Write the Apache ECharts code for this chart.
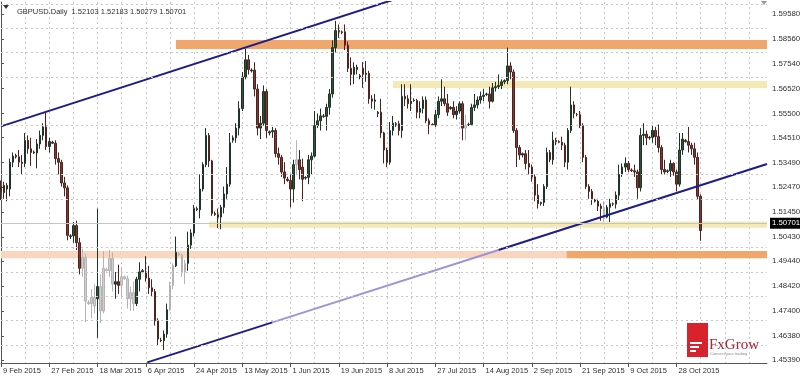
<!DOCTYPE html>
<html>
<head>
<meta charset="utf-8">
<script src="https://cdn.jsdelivr.net/npm/echarts@6/dist/echarts.min.js"></script>
<style>html,body{margin:0;padding:0;background:#fff}#c{width:800px;height:377px}</style>
</head>
<body>
<div id="c"></div>
<script>
// ---------- DATA (GBPUSD Daily, Sunday bars included) ----------
const symbolTitle = 'GBPUSD.Daily';
const startDay = [2015, 1, 9]; // 9 Feb 2015, first visible bar
const open = [
1.5250,1.5225,1.5255,1.5240,1.5350,1.5378, 1.5372,1.5350,1.5345,1.5440,1.5405,1.5392,
1.5388,1.5425,1.5460,1.5495,1.5415,1.5432, 1.5428,1.5365,1.5350,1.5265,1.5245,1.5045,
1.5048,1.5090,1.5020,1.4915,1.4960,1.4775, 1.4770,1.4795,1.4790,1.4840,1.4740,1.4910,
1.4906,1.4955,1.4850,1.4860,1.4845,1.4880, 1.4872,1.4790,1.4815,1.4770,1.4870,1.4905,
1.4900,1.4875,1.4835,1.4820,1.4700,1.4620, 1.4618,1.4645,1.4745,1.4845,1.4925,1.4975,
1.4970,1.4900,1.4935,1.5010,1.5060,1.5160, 1.5155,1.5240,1.5340,1.5460,1.5355,1.5140,
1.5135,1.5125,1.5165,1.5220,1.5260,1.5440, 1.5450,1.5490,1.5570,1.5700,1.5770,1.5725,
1.5728,1.5650,1.5490,1.5510,1.5640,1.5470, 1.5475,1.5480,1.5385,1.5370,1.5310,1.5280,
1.5275,1.5240,1.5340,1.5360,1.5330,1.5285, 1.5288,1.5360,1.5375,1.5500,1.5520,1.5540,
1.5538,1.5575,1.5630,1.5820,1.5890,1.5882, 1.5885,1.5830,1.5735,1.5710,1.5740,1.5700,
1.5735,1.5710,1.5715,1.5610,1.5600,1.5550, 1.5555,1.5470,1.5400,1.5350,1.5480,1.5505,
1.5508,1.5480,1.5620,1.5610,1.5590,1.5605, 1.5603,1.5555,1.5570,1.5605,1.5520,1.5505,
1.5503,1.5545,1.5600,1.5610,1.5590,1.5570, 1.5575,1.5545,1.5560,1.5590,1.5490,1.5505,
1.5505,1.5575,1.5585,1.5605,1.5620,1.5628, 1.5630,1.5600,1.5655,1.5660,1.5665,1.5680,
1.5685,1.5745,1.5720,1.5480,1.5410,1.5380, 1.5385,1.5345,1.5330,1.5290,1.5215,1.5180,
1.5185,1.5250,1.5390,1.5360,1.5440,1.5435, 1.5432,1.5420,1.5350,1.5480,1.5585,1.5545,
1.5545,1.5500,1.5370,1.5250,1.5230,1.5195, 1.5190,1.5170,1.5160,1.5125,1.5165,1.5180,
1.5178,1.5215,1.5300,1.5330,1.5345,1.5318, 1.5315,1.5310,1.5245,1.5460,1.5465,1.5450,
1.5452,1.5480,1.5455,1.5410,1.5320,1.5312, 1.5315,1.5345,1.5310,1.5260,1.5400,1.5440,
1.5435,1.5420,1.5405,1.5370,1.52103
];
const high = [
1.5275,1.5270,1.5265,1.5365,1.5390,1.5385, 1.5400,1.5380,1.5470,1.5460,1.5450,1.5398,
1.5445,1.5480,1.5510,1.5552,1.5450,1.5438, 1.5440,1.5390,1.5360,1.5290,1.5255,1.5055,
1.5105,1.5110,1.5040,1.4995,1.4975,1.4785, 1.4830,1.4850,1.5160,1.4890,1.4985,1.4918,
1.4990,1.4980,1.4900,1.4930,1.4920,1.4885, 1.4885,1.4840,1.4860,1.4880,1.4940,1.4912,
1.4965,1.4925,1.4870,1.4830,1.4710,1.4630, 1.4660,1.4770,1.4860,1.4935,1.5045,1.4982,
1.4975,1.4950,1.5065,1.5075,1.5175,1.5168, 1.5300,1.5350,1.5490,1.5470,1.5360,1.5148,
1.5160,1.5175,1.5250,1.5330,1.5470,1.5460, 1.5510,1.5600,1.5720,1.5815,1.5790,1.5735,
1.5760,1.5670,1.5540,1.5665,1.5650,1.5480, 1.5495,1.5490,1.5410,1.5380,1.5350,1.5290,
1.5300,1.5360,1.5440,1.5400,1.5365,1.5292, 1.5380,1.5390,1.5560,1.5550,1.5570,1.5548,
1.5590,1.5650,1.5850,1.5930,1.5915,1.5890, 1.5915,1.5845,1.5780,1.5760,1.5750,1.5712,
1.5760,1.5765,1.5725,1.5625,1.5630,1.5560, 1.5610,1.5475,1.5410,1.5515,1.5540,1.5515,
1.5520,1.5670,1.5670,1.5625,1.5670,1.5612, 1.5610,1.5600,1.5620,1.5620,1.5530,1.5510,
1.5565,1.5620,1.5690,1.5660,1.5630,1.5580, 1.5600,1.5580,1.5600,1.5600,1.5545,1.5512,
1.5590,1.5630,1.5620,1.5640,1.5650,1.5635, 1.5660,1.5675,1.5680,1.5710,1.5690,1.5690,
1.5820,1.5760,1.5730,1.5490,1.5420,1.5390, 1.5400,1.5400,1.5340,1.5300,1.5260,1.5188,
1.5260,1.5410,1.5400,1.5475,1.5450,1.5440, 1.5455,1.5430,1.5490,1.5660,1.5600,1.5552,
1.5560,1.5510,1.5380,1.5260,1.5240,1.5200, 1.5200,1.5180,1.5190,1.5175,1.5200,1.5185,
1.5230,1.5340,1.5345,1.5370,1.5355,1.5325, 1.5340,1.5320,1.5490,1.5510,1.5480,1.5458,
1.5500,1.5495,1.5505,1.5420,1.5360,1.5320, 1.5360,1.5350,1.5320,1.5470,1.5470,1.5445,
1.5495,1.5430,1.5430,1.5390,1.52183
];
const low = [
1.5195,1.5200,1.5190,1.5210,1.5330,1.5365, 1.5330,1.5300,1.5330,1.5385,1.5335,1.5384,
1.5325,1.5405,1.5440,1.5400,1.5390,1.5425, 1.5340,1.5300,1.5250,1.5210,1.5030,1.5035,
1.5020,1.4990,1.4890,1.4880,1.4695,1.4765, 1.4710,1.4730,1.4630,1.4690,1.4730,1.4902,
1.4880,1.4820,1.4790,1.4810,1.4800,1.4868, 1.4750,1.4740,1.4740,1.4760,1.4820,1.4895,
1.4860,1.4810,1.4800,1.4680,1.4600,1.4612, 1.4580,1.4630,1.4740,1.4830,1.4920,1.4965,
1.4880,1.4850,1.4905,1.4995,1.5045,1.5150, 1.5120,1.5230,1.5330,1.5330,1.5130,1.5130,
1.5080,1.5075,1.5140,1.5200,1.5250,1.5430, 1.5430,1.5460,1.5560,1.5690,1.5710,1.5718,
1.5620,1.5460,1.5445,1.5500,1.5450,1.5460, 1.5450,1.5370,1.5340,1.5290,1.5260,1.5270,
1.5165,1.5185,1.5300,1.5280,1.5190,1.5278, 1.5260,1.5300,1.5370,1.5490,1.5480,1.5532,
1.5480,1.5545,1.5615,1.5800,1.5860,1.5875, 1.5810,1.5720,1.5665,1.5670,1.5710,1.5690,
1.5655,1.5680,1.5590,1.5570,1.5565,1.5535, 1.5450,1.5345,1.5330,1.5340,1.5460,1.5495,
1.5460,1.5450,1.5580,1.5570,1.5560,1.5598, 1.5530,1.5530,1.5550,1.5510,1.5465,1.5500,
1.5495,1.5530,1.5580,1.5580,1.5540,1.5565, 1.5530,1.5525,1.5550,1.5440,1.5440,1.5498,
1.5500,1.5560,1.5570,1.5590,1.5600,1.5622, 1.5570,1.5595,1.5640,1.5650,1.5650,1.5670,
1.5670,1.5690,1.5470,1.5330,1.5360,1.5370, 1.5320,1.5300,1.5270,1.5190,1.5160,1.5172,
1.5170,1.5240,1.5350,1.5340,1.5420,1.5428, 1.5400,1.5330,1.5320,1.5470,1.5530,1.5538,
1.5490,1.5350,1.5240,1.5200,1.5175,1.5185, 1.5150,1.5110,1.5105,1.5120,1.5105,1.5170,
1.5160,1.5195,1.5290,1.5310,1.5310,1.5310, 1.5290,1.5200,1.5230,1.5420,1.5420,1.5442,
1.5430,1.5420,1.5390,1.5300,1.5300,1.5305, 1.5290,1.5295,1.5230,1.5250,1.5380,1.5430,
1.5390,1.5380,1.5340,1.5195,1.50279
];
const close = [
1.5225,1.5255,1.5240,1.5350,1.5375,1.5372, 1.5350,1.5345,1.5440,1.5405,1.5390,1.5388,
1.5425,1.5460,1.5495,1.5415,1.5435,1.5428, 1.5365,1.5350,1.5265,1.5245,1.5050,1.5048,
1.5090,1.5020,1.4915,1.4960,1.4780,1.4770, 1.4795,1.4760,1.4840,1.4740,1.4915,1.4906,
1.4955,1.4850,1.4860,1.4845,1.4880,1.4872, 1.4790,1.4815,1.4770,1.4870,1.4900,1.4900,
1.4875,1.4835,1.4820,1.4700,1.4625,1.4618, 1.4645,1.4745,1.4845,1.4925,1.4980,1.4970,
1.4900,1.4935,1.5010,1.5060,1.5160,1.5155, 1.5240,1.5340,1.5460,1.5355,1.5140,1.5135,
1.5125,1.5165,1.5220,1.5260,1.5430,1.5450, 1.5490,1.5570,1.5700,1.5770,1.5730,1.5728,
1.5650,1.5490,1.5510,1.5640,1.5480,1.5475, 1.5480,1.5385,1.5370,1.5310,1.5285,1.5275,
1.5240,1.5340,1.5360,1.5320,1.5280,1.5288, 1.5360,1.5375,1.5500,1.5520,1.5540,1.5538,
1.5575,1.5630,1.5820,1.5890,1.5885,1.5885, 1.5830,1.5735,1.5710,1.5740,1.5730,1.5705,
1.5710,1.5715,1.5610,1.5600,1.5605,1.5555, 1.5470,1.5400,1.5350,1.5480,1.5510,1.5508,
1.5480,1.5620,1.5610,1.5590,1.5600,1.5603, 1.5555,1.5570,1.5605,1.5520,1.5505,1.5503,
1.5545,1.5600,1.5610,1.5590,1.5555,1.5575, 1.5545,1.5560,1.5590,1.5490,1.5500,1.5505,
1.5575,1.5585,1.5605,1.5620,1.5625,1.5630, 1.5600,1.5655,1.5660,1.5665,1.5680,1.5685,
1.5745,1.5720,1.5480,1.5410,1.5380,1.5385, 1.5345,1.5330,1.5290,1.5215,1.5180,1.5185,
1.5250,1.5390,1.5360,1.5440,1.5435,1.5432, 1.5420,1.5350,1.5480,1.5585,1.5550,1.5545,
1.5500,1.5370,1.5250,1.5230,1.5200,1.5190, 1.5170,1.5160,1.5125,1.5165,1.5180,1.5178,
1.5215,1.5300,1.5330,1.5345,1.5320,1.5315, 1.5310,1.5245,1.5460,1.5465,1.5450,1.5452,
1.5480,1.5455,1.5410,1.5320,1.5310,1.5315, 1.5345,1.5310,1.5260,1.5400,1.5445,1.5435,
1.5420,1.5405,1.5370,1.52103,1.50701
];
// bars drawn washed-out (light grey) in the original picture
const fadedBars = [27,28,29,30,31,33,34,35,36,37,40,41,42,43,44,56,57,59,60,61,98,154,200];
// right price-scale tick labels
const yTickValues = [1.59580,1.58560,1.57540,1.56520,1.55500,1.54510,1.53490,1.52470,1.51450,1.50430,1.49440,1.48420,1.47400,1.46380,1.45390];
const totalSlots = 255;        // bars + empty right shift
const labelEvery = 16;         // date label every 16 bars
const gridEvery = 8;           // vertical grid every 8 bars
// support / resistance zones: [fromBar, toBar, upperPrice, lowerPrice, kind]
const zones = [
  [58, 254, 1.5851, 1.5814, 'strong'],
  [130, 254, 1.5683, 1.5654, 'weak'],
  [69, 254, 1.5107, 1.5081, 'weak'],
  [0, 187.5, 1.4986, 1.4956, 'soft'],
  [187.5, 254, 1.4986, 1.4956, 'strong']
];
// channel lines: [bar, price] anchor points
const upperChannel = [[0, 1.5497], [140, 1.6056]];
const lowerChannelA = [[48.5, 1.4529], [90, 1.4693]];
const lowerChannelB = [[90, 1.4693], [165, 1.4990]];
const lowerChannelC = [[165, 1.4990], [254, 1.5343]];

// ---------- BUILD ----------
const months = ['Jan','Feb','Mar','Apr','May','Jun','Jul','Aug','Sep','Oct','Nov','Dec'];
const categories = [];
let t = Date.UTC(startDay[0], startDay[1], startDay[2]);
while (categories.length < totalSlots) {
  const dt = new Date(t);
  if (dt.getUTCDay() !== 6) categories.push(dt.getUTCDate() + ' ' + months[dt.getUTCMonth()] + ' ' + dt.getUTCFullYear());
  t += 86400000;
}
const nBars = close.length;
const fadedStyle = {color:'#cfcfcf', color0:'#cfcfcf', borderColor:'#b3b3b3', borderColor0:'#b3b3b3'};
const candleData = close.map((c, i) => {
  const v = [open[i], c, low[i], high[i]];
  return fadedBars.indexOf(i) >= 0 ? {value: v, itemStyle: fadedStyle} : v;
});
const zoneColor = {strong:'#f1a66c', weak:'#f4e8b6', soft:'#f8d6bf'};
const FONT = 'Liberation Sans';
const f5 = v => v.toFixed(5);
const last = nBars - 1;
const showDate = (i) => i % labelEvery === 0 && i <= last;

const chart = echarts.init(document.getElementById('c'), null, {renderer:'canvas'});
const lineSeries = (pts, color, z) => ({
  type:'line', xAxisIndex:1, yAxisIndex:0, data: pts, symbol:'none', silent:true, z:z,
  lineStyle:{color: color, width: 2}, clip:true, animation:false
});
chart.setOption({
  animation:false,
  backgroundColor:'#ffffff',
  title:{
    text: symbolTitle + '  ' + [open[last], high[last], low[last], close[last]].map(f5).join(' '),
    left: 12, top: 3,
    textStyle:{fontSize:7.5, fontWeight:'normal', color:'#303030', fontFamily:FONT}
  },
  grid:{left:1, right:33, top:2, bottom:14, containLabel:false, outerBoundsMode:'none'},
  xAxis:[{
    type:'category', data: categories, boundaryGap:false,
    axisLine:{show:true, lineStyle:{color:'#555', width:1}},
    axisTick:{show:true, length:4, interval: showDate, lineStyle:{color:'#555'}},
    axisLabel:{show:true, interval: showDate, align:'left', margin:4,
      padding:[0,0,0,2], fontSize:7.5, color:'#303030', fontFamily:FONT, showMinLabel:true, showMaxLabel:true, hideOverlap:false},
    splitLine:{show:true, interval:(i)=> i % gridEvery === 0, lineStyle:{type:[2,3], color:'#c6c6c6', width:1}}
  },{
    type:'value', min:0, max:totalSlots-1, show:false
  }],
  yAxis:{
    type:'value', position:'right', min:1.45265, max:1.60072, scale:true,
    axisLine:{show:true, lineStyle:{color:'#555', width:1}},
    axisTick:{show:true, length:3, customValues: yTickValues, lineStyle:{color:'#555'}},
    axisLabel:{show:true, customValues: yTickValues, formatter:(v)=> f5(v), margin:5, fontSize:7.8, color:'#303030', fontFamily:FONT},
    splitLine:{show:false}
  },
  series:[
    {type:'line', xAxisIndex:1, data:[], z:0, silent:true,
     markLine:{silent:true, symbol:['none','none'], label:{show:false}, animation:false,
       lineStyle:{type:[2,3], color:'#c6c6c6', width:1},
       data: yTickValues.map(v => ({yAxis: v}))}},
    {type:'line', xAxisIndex:1, data:[], z:1, silent:true,
     markArea:{silent:true, animation:false,
       data: zones.map(zn => [{coord:[zn[0], zn[2]], itemStyle:{color: zoneColor[zn[4]], opacity:1}}, {coord:[zn[1], zn[3]]}])}},
    {type:'line', xAxisIndex:1, data:[], z:2, silent:true,
     markLine:{silent:true, symbol:['none','none'], animation:false,
       lineStyle:{type:'solid', color:'#c4c4c4', width:1},
       label:{show:true, position:'end', distance:3, formatter: f5(close[last]), color:'#fff',
         backgroundColor:'#000', padding:[2,3,1,2], fontSize:7.8, fontFamily:FONT},
       data:[{yAxis: close[last]}]}},
    {type:'candlestick', name:'GBPUSD', xAxisIndex:0, yAxisIndex:0, data: candleData, z:3,
     barWidth:2, silent:true,
     itemStyle:{color:'#30503a', color0:'#7d3a35', borderColor:'#1f3326', borderColor0:'#4e2320', borderWidth:1}},
    lineSeries(upperChannel, '#1d1d8a', 4),
    lineSeries(lowerChannelA, '#1d1d8a', 4),
    lineSeries(lowerChannelB, '#9d95d6', 4),
    lineSeries(lowerChannelC, '#1d1d8a', 4)
  ],
  graphic:[
    {type:'polygon', shape:{points:[[3,5],[9,5],[6,9]]}, style:{fill:'#333'}, z:10},
    {type:'polygon', shape:{points:[[761,1],[767,1],[764,5]]}, style:{fill:'#999'}, z:10},
    {type:'rect', shape:{x:687, y:323, width:21, height:34}, style:{fill:'#d8232f'}, z:10},
    {type:'rect', shape:{x:690, y:342, width:12, height:2}, style:{fill:'#fff'}, z:11},
    {type:'rect', shape:{x:690, y:346, width:9, height:2}, style:{fill:'#fff'}, z:11},
    {type:'rect', shape:{x:690, y:350, width:6, height:2}, style:{fill:'#fff'}, z:11},
    {type:'text', x:709, y:338, style:{text:'FxGrow', fill:'#a8283a', font:'15px "Liberation Serif"'}, z:11},
    {type:'text', x:710, y:352, style:{text:'Connect your trading', fill:'#8a8a8a', font:'4px "Liberation Sans"'}, z:11}
  ]
});
</script>
</body>
</html>
